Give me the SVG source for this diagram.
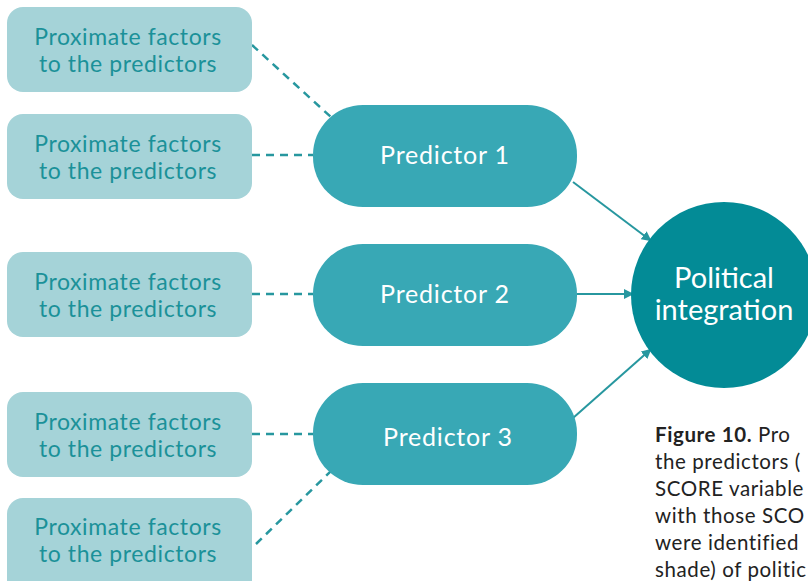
<svg xmlns="http://www.w3.org/2000/svg" width="808" height="581" viewBox="0 0 808 581">
<style>
.box{fill:#a5d3d8}
.bt{font-family:Lato,"Open Sans","Liberation Sans",sans-serif;font-size:23px;letter-spacing:0.6px;fill:#1b9199;text-anchor:middle}
.pill{fill:#38a8b5}
.pt{font-family:Lato,"Open Sans","Liberation Sans",sans-serif;font-size:25px;letter-spacing:0.8px;fill:#ffffff;text-anchor:middle}
.ct{font-family:Lato,"Open Sans","Liberation Sans",sans-serif;font-size:29px;fill:#ffffff;text-anchor:middle}
.dash{stroke:#27979f;stroke-width:2.5;stroke-dasharray:8,6;fill:none}
.arr{stroke:#27979f;stroke-width:2;fill:none;marker-end:url(#ah)}
.cap{font-family:Lato,"Open Sans","Liberation Sans",sans-serif;font-size:20.5px;letter-spacing:0.6px;fill:#222222}
</style>
<defs>
<marker id="ah" markerWidth="10" markerHeight="10" refX="8" refY="5" orient="auto" markerUnits="userSpaceOnUse">
<path d="M0,0 L10,5 L0,10 Z" fill="#27979f"/>
</marker>
</defs>
<rect width="808" height="581" fill="#ffffff"/>
<g id="connectors">
<line class="dash" x1="252" y1="45" x2="332" y2="118"/>
<line class="dash" x1="252" y1="155" x2="313" y2="155"/>
<line class="dash" x1="252" y1="294" x2="313" y2="294"/>
<line class="dash" x1="252" y1="434" x2="313" y2="434"/>
<line class="dash" x1="256" y1="544" x2="332" y2="470"/>
<line class="arr" x1="573" y1="182" x2="650" y2="240"/>
<line class="arr" x1="577" y1="294" x2="632" y2="294"/>
<line class="arr" x1="573" y1="418" x2="650" y2="350"/>
</g>
<g id="factor1"><rect class="box" x="7" y="7" width="245" height="85" rx="16"/><text class="bt" x="128" y="45">Proximate factors</text><text class="bt" x="128" y="72">to the predictors</text></g>
<g id="factor2"><rect class="box" x="7" y="114" width="245" height="85" rx="16"/><text class="bt" x="128" y="152">Proximate factors</text><text class="bt" x="128" y="179">to the predictors</text></g>
<g id="factor3"><rect class="box" x="7" y="252" width="245" height="85" rx="16"/><text class="bt" x="128" y="290">Proximate factors</text><text class="bt" x="128" y="317">to the predictors</text></g>
<g id="factor4"><rect class="box" x="7" y="392" width="245" height="85" rx="16"/><text class="bt" x="128" y="430">Proximate factors</text><text class="bt" x="128" y="457">to the predictors</text></g>
<g id="factor5"><rect class="box" x="7" y="498" width="245" height="100" rx="16"/><text class="bt" x="128" y="535">Proximate factors</text><text class="bt" x="128" y="562">to the predictors</text></g>
<g id="predictor1"><rect class="pill" x="313" y="105" width="264" height="102" rx="50"/><text class="pt" x="445" y="164">Predictor 1</text></g>
<g id="predictor2"><rect class="pill" x="313" y="244" width="264" height="102" rx="50"/><text class="pt" x="445" y="303">Predictor 2</text></g>
<g id="predictor3"><rect class="pill" x="313" y="383" width="264" height="102" rx="50"/><text class="pt" x="448" y="446">Predictor 3</text></g>
<g id="outcome"><circle cx="724" cy="295" r="93" fill="#038b96"/><text class="ct" x="724" y="288">Political</text><text class="ct" x="724" y="320">integration</text></g>
<g id="caption">
<text class="cap" x="655" y="442"><tspan font-weight="bold">Figure 10.</tspan> Pro</text>
<text class="cap" x="655" y="469">the predictors (</text>
<text class="cap" x="655" y="496">SCORE variable</text>
<text class="cap" x="655" y="523">with those SCO</text>
<text class="cap" x="655" y="550">were identified</text>
<text class="cap" x="655" y="577">shade) of politic</text>
</g>
</svg>
